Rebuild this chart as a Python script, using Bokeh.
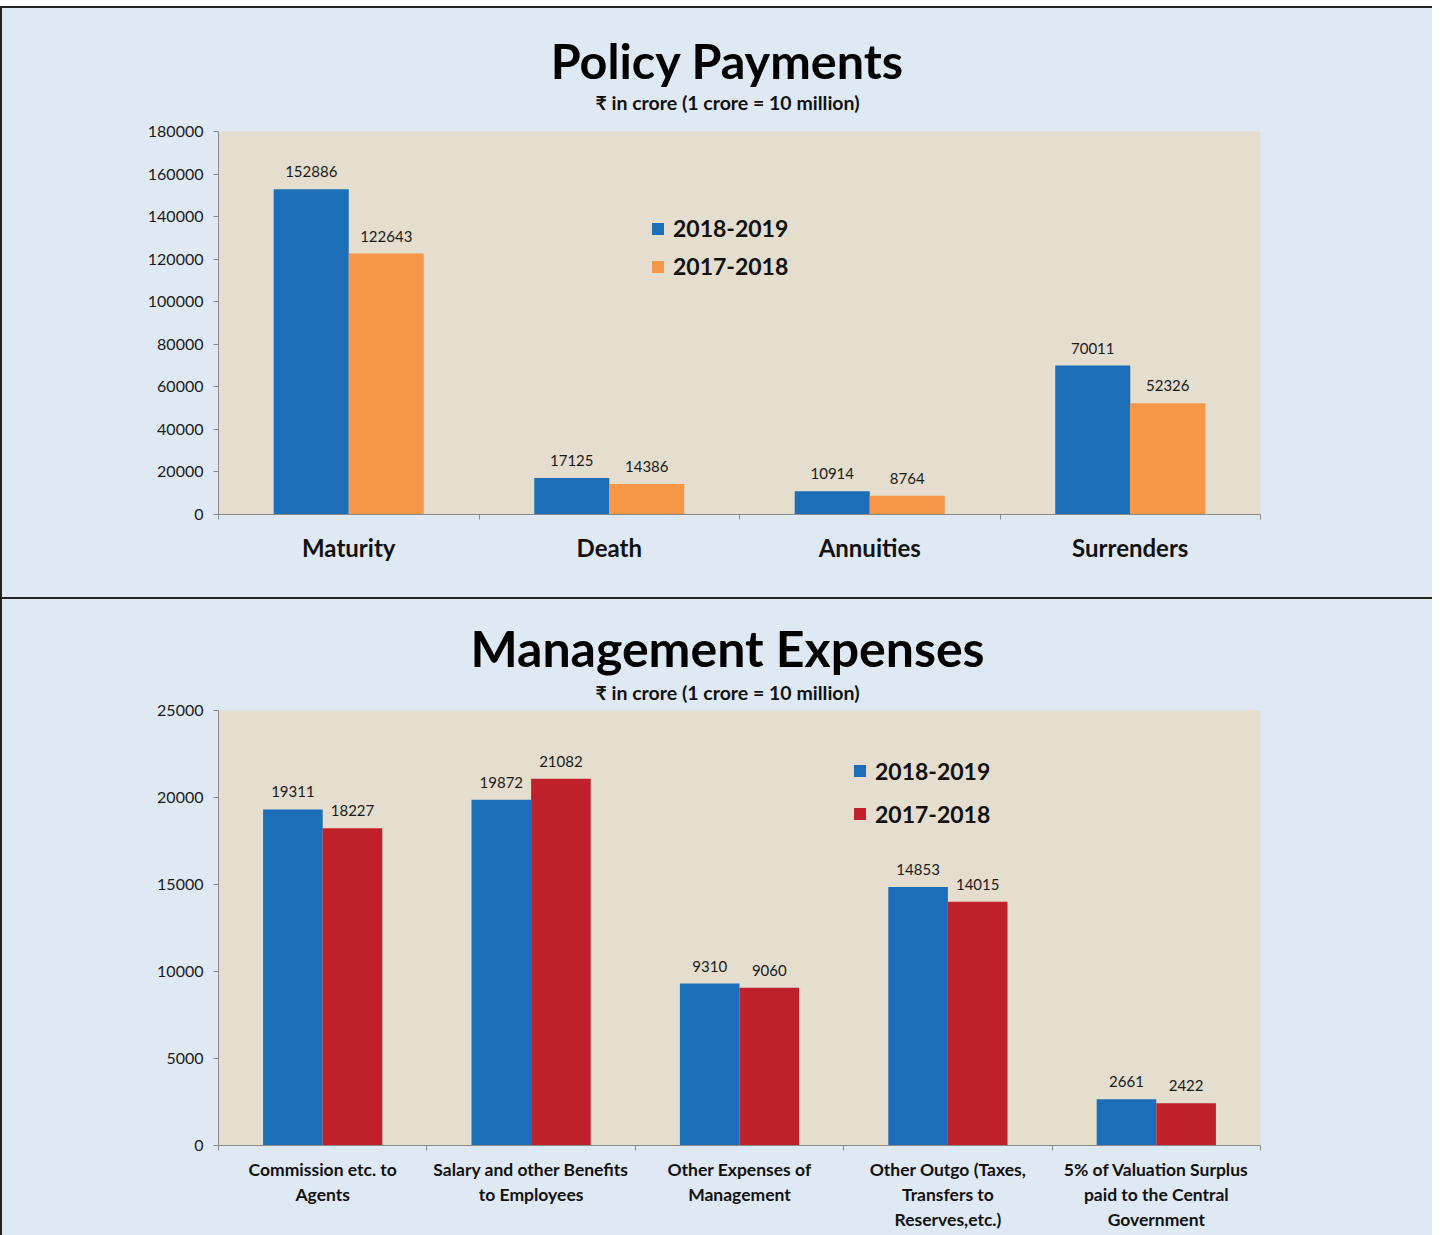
from bokeh.plotting import figure
from bokeh.models import (ColumnDataSource, Range1d, FixedTicker, NumeralTickFormatter,
                          BoxAnnotation, Legend, LegendItem)
from bokeh.layouts import column
from bokeh.core.properties import value
from bokeh.embed import file_html
from bokeh.resources import INLINE

# ---------------- data ----------------
pay_categories = ["Maturity", "Death", "Annuities", "Surrenders"]
pay_2018_19 = [152886, 17125, 10914, 70011]
pay_2017_18 = [122643, 14386, 8764, 52326]
pay_yticks = [0, 20000, 40000, 60000, 80000, 100000, 120000, 140000, 160000, 180000]

exp_categories = ["Commission etc. to\nAgents",
                  "Salary and other Benefits\nto Employees",
                  "Other Expenses of\nManagement",
                  "Other Outgo (Taxes,\nTransfers to\nReserves,etc.)",
                  "5% of Valuation Surplus\npaid to the Central\nGovernment"]
exp_2018_19 = [19311, 19872, 9310, 14853, 2661]
exp_2017_18 = [18227, 21082, 9060, 14015, 2422]
exp_yticks = [0, 5000, 10000, 15000, 20000, 25000]

series_names = ["2018-2019", "2017-2018"]
subtitle = "₹ in crore (1 crore = 10 million)"

FONT = "Lato"
BLUE = "#1d6eb8"
ORANGE = "#f79646"
RED = "#c0202a"
BEIGE = "#e5ddcd"
PAPER = "#dfe9f4"
AXIS = "#8a8a8a"
W = 1430
TOP_PAD = 6  # px between figure top and frame top
H1, H2 = 589, 636


def make_panel(main_title, cats, a, b, yticks, col_b, height, borders,
               cat_font, cat_standoff, legend_loc, legend_h, bar_w,
               title_font, title_dy, sub_dy, title_dx):
    n = len(cats)
    centers = [i + 0.5 for i in range(n)]
    off = bar_w / 2
    ymax = yticks[-1]
    # frame extends above the plot area so that the titles live inside it
    frame_h = height - TOP_PAD - borders[3]
    plot_h = height - borders[2] - borders[3]
    y_end = ymax * frame_h / plot_h

    src = ColumnDataSource(dict(
        xa=[c - off for c in centers], xb=[c + off for c in centers],
        a=a, b=b,
        la=[str(v) for v in a], lb=[str(v) for v in b]))
    p = figure(width=W, height=height, output_backend="svg", toolbar_location=None,
               x_range=Range1d(0, n), y_range=Range1d(yticks[0], y_end),
               min_border_left=borders[0], min_border_right=borders[1],
               min_border_top=TOP_PAD, min_border_bottom=borders[3])
    p.background_fill_color = PAPER
    p.border_fill_color = PAPER
    p.outline_line_color = None
    p.grid.visible = False

    # beige plot area from 0 to the top tick
    p.add_layout(BoxAnnotation(bottom=yticks[0], top=ymax, left=0, right=n,
                               fill_color=BEIGE, fill_alpha=1, line_color=None,
                               level="underlay"))

    ra = p.vbar(x="xa", top="a", width=bar_w, bottom=0, source=src,
                fill_color=BLUE, line_color=None)
    rb = p.vbar(x="xb", top="b", width=bar_w, bottom=0, source=src,
                fill_color=col_b, line_color=None)
    for xcol, ycol, lcol in (("xa", "a", "la"), ("xb", "b", "lb")):
        p.text(x=xcol, y=ycol, text=lcol, source=src, text_align="center",
               text_baseline="bottom", y_offset=-12, text_font=value(FONT),
               text_font_size="15px", text_color="#1a1a1a")

    # titles
    p.text(x=[n / 2], y=[ymax], text=[subtitle], x_offset=title_dx, y_offset=-sub_dy,
           text_align="center", text_baseline="middle", text_font=value(FONT),
           text_font_size="19.5px", text_font_style="bold", text_color="#111111")
    p.text(x=[n / 2], y=[ymax], text=[main_title], x_offset=title_dx,
           y_offset=-title_dy, text_align="center", text_baseline="middle",
           text_font=value(FONT), text_font_size=title_font,
           text_font_style="bold", text_color="#000000")

    # y axis
    ya = p.yaxis[0]
    ya.ticker = FixedTicker(ticks=yticks)
    ya.bounds = (yticks[0], ymax)
    ya.formatter = NumeralTickFormatter(format="0")
    ya.axis_line_color = AXIS
    ya.major_tick_line_color = AXIS
    ya.major_tick_in = 0
    ya.major_tick_out = 5
    ya.minor_tick_line_color = None
    ya.major_label_text_font = FONT
    ya.major_label_text_font_size = "16px"
    ya.major_label_text_color = "#1a1a1a"
    ya.major_label_standoff = 10

    # x axis: labels at centers, ticks at boundaries
    xa = p.xaxis[0]
    xa.ticker = FixedTicker(ticks=centers, minor_ticks=list(range(n + 1)))
    xa.major_label_overrides = {c: cats[i] for i, c in enumerate(centers)}
    xa.major_tick_line_color = None
    xa.minor_tick_line_color = AXIS
    xa.minor_tick_in = 0
    xa.minor_tick_out = 5
    xa.axis_line_color = AXIS
    xa.major_label_text_font = FONT
    xa.major_label_text_font_style = "bold"
    xa.major_label_text_font_size = cat_font
    xa.major_label_text_color = "#111111"
    xa.major_label_standoff = cat_standoff

    leg = Legend(items=[LegendItem(label=series_names[0], renderers=[ra]),
                        LegendItem(label=series_names[1], renderers=[rb])],
                 location=legend_loc, background_fill_alpha=0,
                 border_line_color=None, label_text_font=FONT,
                 label_text_font_style="bold", label_text_font_size="23px",
                 label_text_color="#111111", glyph_width=15, glyph_height=15,
                 label_standoff=8, label_height=legend_h, spacing=6,
                 padding=0, margin=0)
    p.add_layout(leg, "center")
    return p


p1 = make_panel("Policy Payments", pay_categories, pay_2018_19, pay_2017_18,
                pay_yticks, ORANGE, H1, (216, 172, 123, 83), "24px", 12,
                (432, 232), 32, 0.288, "48.5px", 72, 29, -12)
p2 = make_panel("Management Expenses", exp_categories, exp_2018_19, exp_2017_18,
                exp_yticks, RED, H2, (216, 172, 111, 90), "17.5px", 7,
                (634, 313), 37, 0.286, "50px", 63, 18, -12)

# dark frame lines: left edge, top edge and the separator between the panels
sep_top = 2 + H1
bg = ("linear-gradient(to right, #222222 0px, #222222 2px, transparent 2px), "
      f"linear-gradient(to bottom, #222222 0px, #222222 2px, {PAPER} 2px, "
      f"{PAPER} {sep_top}px, #222222 {sep_top}px, #222222 {sep_top + 2}px, "
      f"{PAPER} {sep_top + 2}px)")
layout = column(p1, p2, spacing=2,
                styles={"background": bg,
                        "padding": "2px 0px 0px 2px",
                        "margin": "6px 0px 0px 0px"})

open("out.html", "w").write(file_html(layout, INLINE))
